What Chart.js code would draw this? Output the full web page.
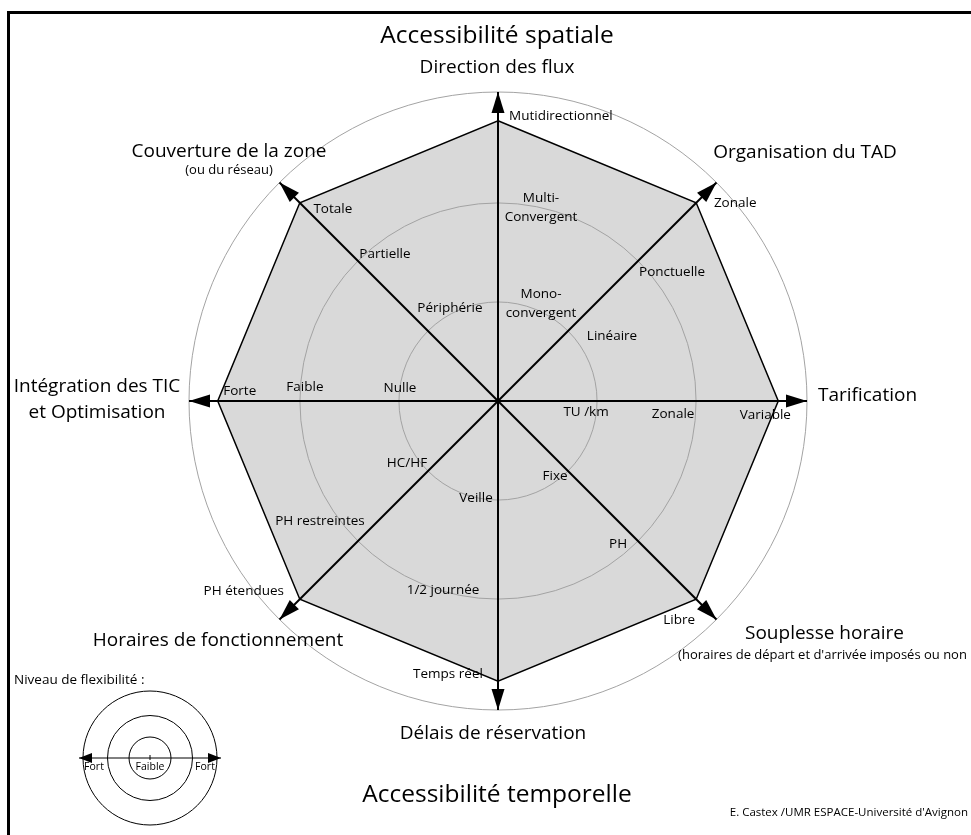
<!DOCTYPE html>
<html lang="fr">
<head>
<meta charset="utf-8">
<title>Accessibilité spatiale et temporelle du TAD</title>
<script src="https://cdn.jsdelivr.net/npm/chart.js@4.4.1/dist/chart.umd.min.js"></script>
<style>
  html, body { margin: 0; padding: 0; background: #fff; }
  canvas { display: block; }
</style>
</head>
<body>
<canvas id="graficoTAD" width="971" height="835"></canvas>
<script>
// Axes (sens horaire, depuis le haut)
const axes = ['Direction des flux', 'Organisation du TAD', 'Tarification', 'Souplesse horaire',
  'Délais de réservation', 'Horaires de fonctionnement', 'Intégration des TIC', 'Couverture de la zone'];
// Niveau atteint sur chaque axe
const valeurs = [2.83, 2.83, 2.83, 2.83, 2.83, 2.83, 2.83, 2.83];
// Cercles de la grille
const niveauxGrille = [0, 1, 2, 3.12];
// Libellés des niveaux 1, 2 et 3 sur chaque axe
const niveau1 = ['Mono-\nconvergent', 'Linéaire', 'TU /km', 'Fixe', 'Veille', 'HC/HF', 'Nulle', 'Périphérie'];
const niveau2 = ['Multi-\nConvergent', 'Ponctuelle', 'Zonale', 'PH', '1/2 journée', 'PH restreintes', 'Faible', 'Partielle'];
const niveau3 = ['Mutidirectionnel', 'Zonale', 'Variable', 'Libre', 'Temps réel', 'PH étendues', 'Forte', 'Totale'];
// Titres des axes (ligne principale, ligne secondaire)
const titresAxes = [
  ['Direction des flux', ''],
  ['Organisation du TAD', ''],
  ['Tarification', ''],
  ['Souplesse horaire', "(horaires de départ et d'arrivée imposés ou non"],
  ['Délais de réservation', ''],
  ['Horaires de fonctionnement', ''],
  ['Intégration des TIC', 'et Optimisation'],
  ['Couverture de la zone', '(ou du réseau)']
];

const police = '"Open Sans", "Noto Sans", sans-serif';

// décalages en pixels des libellés par rapport au point du niveau
const decalN1 = [[43, 2], [44, 5.5], [-11, 11.5], [-13, 5.5], [-22, -1.5], [-21, -7.5], [1, -12.5], [22, -22.5]];
const decalN2 = [[43, 5], [34, 11.5], [-23, 13.5], [-20, 3.5], [-55, -8.5], [-38, -19.5], [5, -13.5], [27, -6.5]];
const decalN3 = [[11, -4.5], [39, 0], [-13, 14.5], [-17, 20.5], [-50, -7.5], [-56, -8.5], [22, -9.5], [33, 6.5]];
// titres par rapport à l'extrémité de la flèche
const decalTitres = [[-1, -24.5], [88.5, -30], [11, -5.5], [108, 14], [-5, 23.5], [-61.5, 21], [-92, -14.5], [-50.5, -31]];

function texte(ctx, str, x, y, taille, align) {
  ctx.font = taille + 'px ' + police;
  ctx.textAlign = align || 'center';
  ctx.textBaseline = 'middle';
  ctx.fillStyle = '#000';
  ctx.fillText(str, x, y);
}

function fleche(ctx, x, y, ang, long, demi) {
  ctx.save();
  ctx.translate(x, y);
  ctx.rotate(ang);
  ctx.beginPath();
  ctx.moveTo(0, 0);
  ctx.lineTo(-long, -demi);
  ctx.lineTo(-long, demi);
  ctx.closePath();
  ctx.fillStyle = '#000';
  ctx.fill();
  ctx.restore();
}

function libelleMultiligne(ctx, str, x, y, taille, align, interligne) {
  const lignes = str.split('\n');
  const y0 = y - (lignes.length - 1) * interligne / 2;
  lignes.forEach((l, k) => texte(ctx, l, x, y0 + k * interligne, taille, align));
}

const habillage = {
  id: 'habillage',
  afterDraw(chart) {
    const ctx = chart.ctx;
    const r = chart.scales.r;
    const max = r.max;

    // flèches au bout des axes
    axes.forEach((a, i) => {
      const p = r.getPointPositionForValue(i, max);
      fleche(ctx, p.x, p.y, Math.atan2(p.y - r.yCenter, p.x - r.xCenter), 21, 6.5);
    });

    // libellés des niveaux
    [[niveau1, decalN1, 1], [niveau2, decalN2, 2], [niveau3, decalN3, valeurs]].forEach(([libs, dec, niv]) => {
      libs.forEach((lib, i) => {
        const v = Array.isArray(niv) ? niv[i] : niv;
        const p = r.getPointPositionForValue(i, v);
        const align = (niv === valeurs && i === 0) ? 'left' : 'center';
        libelleMultiligne(ctx, lib, p.x + dec[i][0], p.y + dec[i][1], 13.5, align, 19);
      });
    });

    // titres des axes
    titresAxes.forEach(([t1, t2], i) => {
      const p = r.getPointPositionForValue(i, max);
      const x = p.x + decalTitres[i][0];
      const y = p.y + decalTitres[i][1];
      const align = i === 2 ? 'left' : 'center';
      texte(ctx, t1, x, y, 19, align);
      if (t2) {
        if (i === 6) texte(ctx, t2, x, y + 26, 19, align);
        else if (i === 3) texte(ctx, t2, x - 2, y + 22, 13, align);
        else texte(ctx, t2, x, y + 19, 13, align);
      }
    });

    // titres généraux
    texte(ctx, 'Accessibilité spatiale', r.xCenter - 1, 36, 24.5);
    texte(ctx, 'Accessibilité temporelle', r.xCenter - 1, 795, 24.5);
    texte(ctx, "E. Castex /UMR ESPACE-Université d'Avignon", 968, 813, 11.5, 'right');

    // légende : niveau de flexibilité
    texte(ctx, 'Niveau de flexibilité :', 14, 680, 13.5, 'left');
    const cx = 150, cy = 758;
    ctx.strokeStyle = '#000';
    ctx.lineWidth = 1;
    [21, 42.5, 67].forEach(rad => {
      ctx.beginPath();
      ctx.arc(cx, cy, rad, 0, Math.PI * 2);
      ctx.stroke();
    });
    ctx.beginPath();
    ctx.moveTo(79, cy); ctx.lineTo(221, cy);
    ctx.moveTo(cx, cy - 3); ctx.lineTo(cx, cy + 2);
    ctx.stroke();
    fleche(ctx, 79, cy, Math.PI, 13, 5);
    fleche(ctx, 221, cy, 0, 13, 5);
    texte(ctx, 'Fort', 94, 767, 10.5);
    texte(ctx, 'Faible', cx, 767, 10.5);
    texte(ctx, 'Fort', 205, 767, 10.5);

    // cadre
    ctx.beginPath();
    ctx.lineWidth = 3;
    ctx.moveTo(8.5, 835);
    ctx.lineTo(8.5, 12.5);
    ctx.lineTo(971, 12.5);
    ctx.stroke();
  }
};

new Chart(document.getElementById('graficoTAD'), {
  type: 'radar',
  data: {
    labels: axes,
    datasets: [{
      data: valeurs,
      backgroundColor: '#d9d9d9',
      borderColor: '#000000',
      borderWidth: 1.5,
      pointRadius: 0,
      fill: true
    }]
  },
  options: {
    responsive: false,
    animation: false,
    layout: { padding: { left: 189, right: 164, top: 92, bottom: 125 } },
    plugins: {
      legend: { display: false },
      tooltip: { enabled: false }
    },
    scales: {
      r: {
        min: 0,
        max: 3.12,
        startAngle: 0,
        afterBuildTicks: (scale) => { scale.ticks = niveauxGrille.map(v => ({ value: v })); },
        ticks: { display: false },
        pointLabels: { display: false },
        grid: { z: 1, circular: true, color: '#a3a3a3', lineWidth: 1 },
        angleLines: { display: true, color: '#000000', lineWidth: 2 }
      }
    }
  },
  plugins: [habillage]
});
</script>
</body>
</html>
